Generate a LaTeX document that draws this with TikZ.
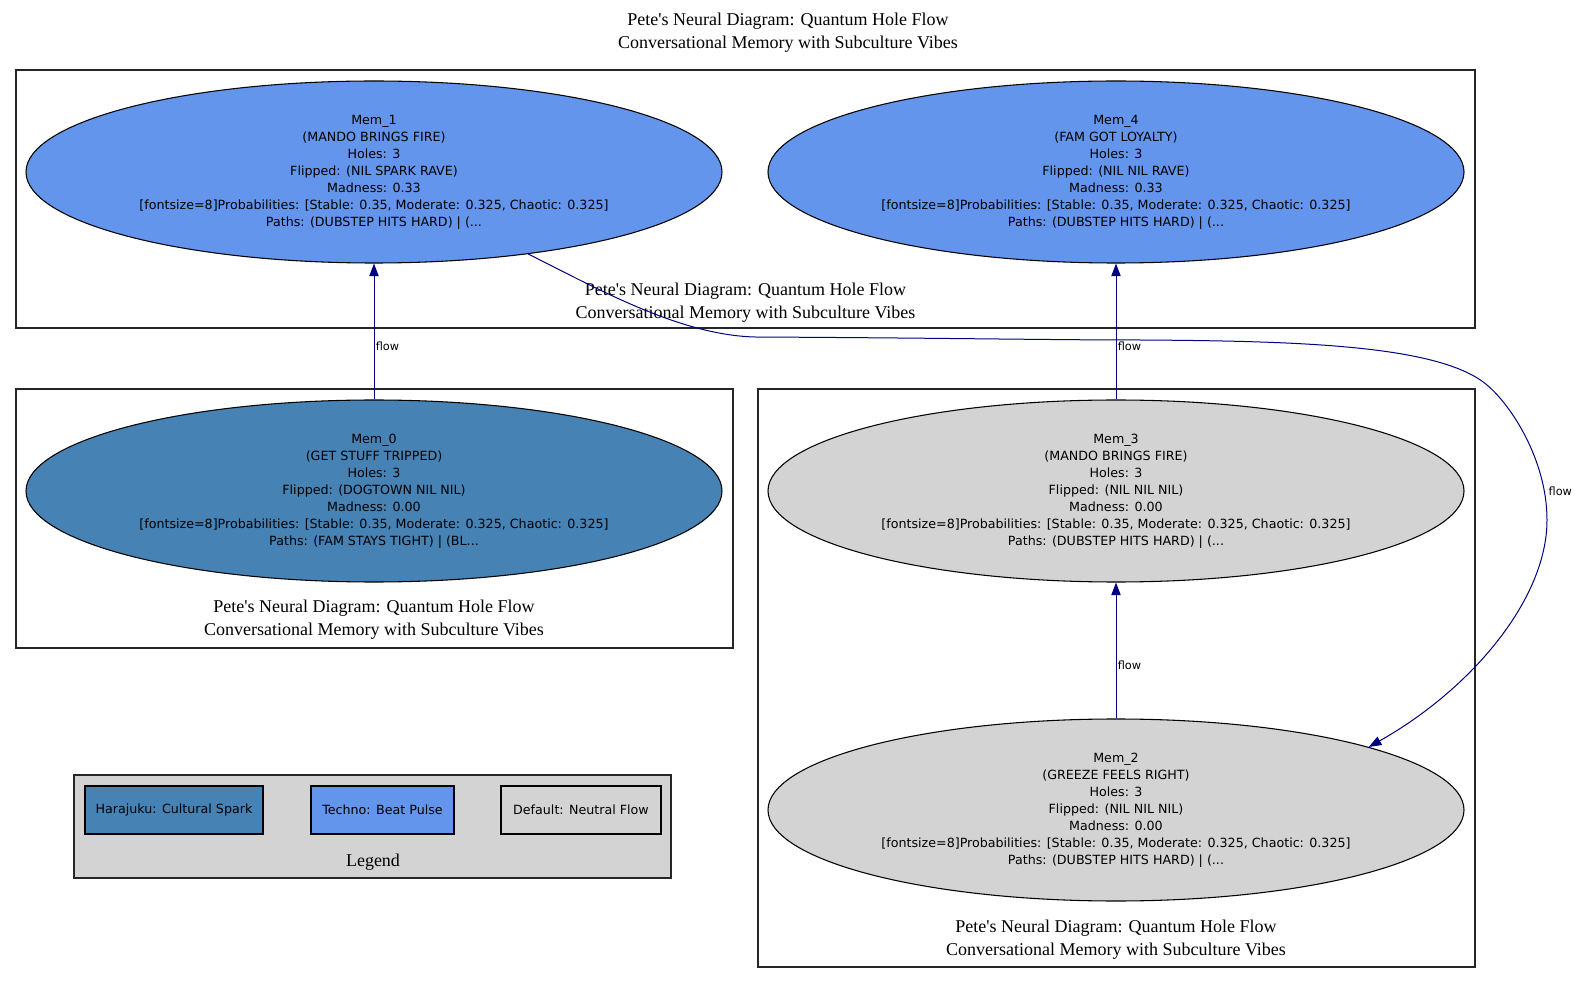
\documentclass[tikz,border=0pt]{standalone}
\usepackage{fontspec}
\setmainfont{Liberation Serif}[Ligatures=TeXOff]
\newfontfamily\memfont{DejaVu Sans}
\usepackage{tikz}
\usetikzlibrary{positioning,shapes.geometric,arrows.meta}

\definecolor{steelblue}{HTML}{4682B4}
\definecolor{cornflower}{HTML}{6495ED}
\definecolor{gvgray}{HTML}{D3D3D3}
\definecolor{navyline}{HTML}{000080}

\begin{document}
\begin{tikzpicture}[x=0.75pt,y=-0.75pt,
    mem/.style={ellipse,draw,line width=0.8pt,inner sep=0pt,minimum width=522pt,minimum height=136.5pt,
      align=center,font=\memfont\fontsize{9.5}{12.75}\selectfont},
    clus/.style={draw,line width=0.9pt,black!85},
    cluslbl/.style={align=center,font=\fontsize{13.5}{17}\selectfont},
    flowedge/.style={draw=navyline,line width=0.75pt,-{Triangle[length=9.5pt,width=7pt]},fill=none},
    flowlbl/.style={font=\memfont\fontsize{8.5}{10}\selectfont,inner sep=1pt,anchor=west},
    legbox/.style={draw,line width=0.8pt,minimum height=36pt,font=\memfont\fontsize{9.5}{11}\selectfont}]
  \useasboundingbox (0,0) rectangle (1575,987);

  % title
  \node[cluslbl] (title) at (788,32.5) {Pete's Neural Diagram: Quantum Hole Flow\\Conversational Memory with Subculture Vibes};

  % clusters
  \draw[clus] (16,70) rectangle (1475,328);
  \node[cluslbl] (toplbl) at (745.5,303) {Pete's Neural Diagram: Quantum Hole Flow\\Conversational Memory with Subculture Vibes};
  \draw[clus] (16,389) rectangle (733,648);
  \node[cluslbl] (leftlbl) at (374,620) {Pete's Neural Diagram: Quantum Hole Flow\\Conversational Memory with Subculture Vibes};
  \draw[clus] (758,389) rectangle (1475,967);
  \node[cluslbl] (rightlbl) at (1116,940) {Pete's Neural Diagram: Quantum Hole Flow\\Conversational Memory with Subculture Vibes};

  % memories
  \node[mem,fill=cornflower] (mem1) at (374,172) {Mem\_1\\(MANDO BRINGS FIRE)\\Holes: 3\\Flipped: (NIL SPARK RAVE)\\Madness: 0.33\\{[}fontsize=8{]}Probabilities: {[}Stable: 0.35, Moderate: 0.325, Chaotic: 0.325{]}\\Paths: (DUBSTEP HITS HARD) | (...};
  \node[mem,fill=cornflower] (mem4) at (1116,172) {Mem\_4\\(FAM GOT LOYALTY)\\Holes: 3\\Flipped: (NIL NIL RAVE)\\Madness: 0.33\\{[}fontsize=8{]}Probabilities: {[}Stable: 0.35, Moderate: 0.325, Chaotic: 0.325{]}\\Paths: (DUBSTEP HITS HARD) | (...};
  \node[mem,fill=steelblue] (mem0) at (374,491) {Mem\_0\\(GET STUFF TRIPPED)\\Holes: 3\\Flipped: (DOGTOWN NIL NIL)\\Madness: 0.00\\{[}fontsize=8{]}Probabilities: {[}Stable: 0.35, Moderate: 0.325, Chaotic: 0.325{]}\\Paths: (FAM STAYS TIGHT) | (BL...};
  \node[mem,fill=gvgray] (mem3) at (1116,491) {Mem\_3\\(MANDO BRINGS FIRE)\\Holes: 3\\Flipped: (NIL NIL NIL)\\Madness: 0.00\\{[}fontsize=8{]}Probabilities: {[}Stable: 0.35, Moderate: 0.325, Chaotic: 0.325{]}\\Paths: (DUBSTEP HITS HARD) | (...};
  \node[mem,fill=gvgray] (mem2) at (1116,810) {Mem\_2\\(GREEZE FEELS RIGHT)\\Holes: 3\\Flipped: (NIL NIL NIL)\\Madness: 0.00\\{[}fontsize=8{]}Probabilities: {[}Stable: 0.35, Moderate: 0.325, Chaotic: 0.325{]}\\Paths: (DUBSTEP HITS HARD) | (...};

  % flows
  \draw[flowedge] (mem0) -- node[flowlbl,pos=0.39] (flow01) {flow} (mem1);
  \draw[flowedge] (mem3) -- node[flowlbl,pos=0.39] (flow34) {flow} (mem4);
  \draw[flowedge] (mem2) -- node[flowlbl,pos=0.39] (flow23) {flow} (mem3);
  \draw[flowedge] (mem1.-28) .. controls (600,290) and (680,335) .. (755,337)
    .. controls (950,338) and (1050,340) .. (1140,340)
    .. controls (1300,341) and (1440,345) .. (1487,385)
    .. controls (1511,405) and (1547,460) .. (1547,520)
    .. controls (1547,600) and (1470,690) .. (mem2.14);
  \node[flowlbl] (flow12) at (1547,491) {flow};

  % legend
  \draw[clus,fill=gvgray] (74,775) rectangle (671,878);
  \node[legbox,fill=steelblue,minimum width=133.5pt] (harajuku) at (174,810) {Harajuku: Cultural Spark};
  \node[legbox,fill=cornflower,minimum width=107.25pt] (techno) at (382.5,810) {Techno: Beat Pulse};
  \node[legbox,fill=gvgray,minimum width=120pt] (default) at (581,810) {Default: Neutral Flow};
  \node[cluslbl] (legendlbl) at (373,862) {Legend};
\end{tikzpicture}
\end{document}
